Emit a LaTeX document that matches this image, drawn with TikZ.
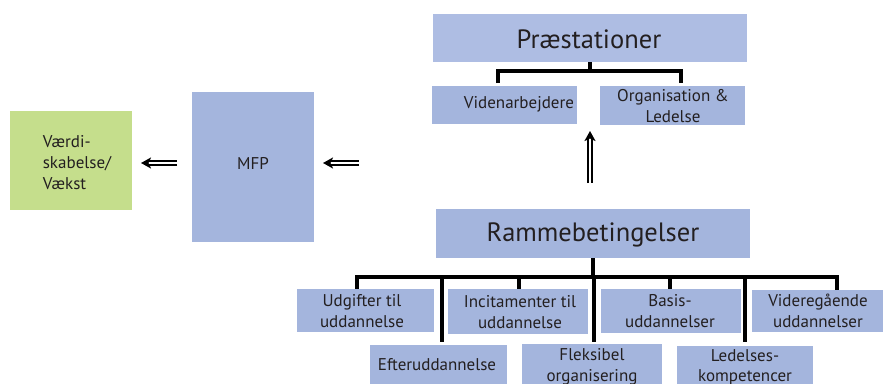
\documentclass[tikz,border=0pt]{standalone}
\usepackage{fontspec}
\setmainfont{PT Sans}
\usetikzlibrary{arrows.meta}
\definecolor{boxblue}{HTML}{A4B5DD}
\definecolor{boxbluel}{HTML}{AEBDE3}
\definecolor{boxgreen}{HTML}{C5DE8C}
\definecolor{txt}{HTML}{231F20}
\tikzset{
  bx/.style={fill=boxblue, draw=none, inner sep=0pt},
  lbl/.style={text=txt, font=\fontsize{17}{20.5}\selectfont, align=center, inner sep=0pt},
  big/.style={text=txt, font=\fontsize{26.5}{30}\selectfont, inner sep=0pt},
  conn/.style={line width=3.1pt, black},
  dblarrow/.style={double=white, double distance=1.8pt, line width=2.1pt, black, -{Stealth[length=10pt,width=11pt,inset=2.5pt]}}
}
\begin{document}
\begin{tikzpicture}[x=1pt,y=-1pt]
\useasboundingbox (0,0) rectangle (883,383);
\clip (0,0) rectangle (883,383);
% top
\fill[boxbluel] (433,14) rectangle (747,62);
\node[big] (praest) at (589,39) {Præstationer};
\coordinate (praestB) at (590,62);
\fill[boxblue] (432,86) rectangle (577,124);
\node[lbl] (viden) at (519,104) {Videnarbejdere};
\fill[boxblue] (600,86) rectangle (745,125);
\node[lbl] (org) at (673,106) {Organisation \&\\Ledelse};
\draw[conn] (praestB) -- (590,71) coordinate (pj);
\draw[conn] (498,83) coordinate (vt) |- (pj) -| (681,83) coordinate (ot);
% left
\fill[boxgreen] (10,111) rectangle (132,210);
\node[lbl, align=left, font=\fontsize{17}{21}\selectfont] (vaerdi) at (77,163) {Værdi-\\skabelse/\\Vækst};
\fill[boxblue] (192,92) rectangle (314,242);
\node[lbl] (mfp) at (253,163) {MFP};
\coordinate (a1s) at (177,163); \coordinate (a1e) at (141,163);
\coordinate (a2s) at (359,163); \coordinate (a2e) at (323,163);
\coordinate (a3s) at (590,183); \coordinate (a3e) at (590,131);
\draw[dblarrow] (a1s) -- (a1e);
\draw[dblarrow] (a2s) -- (a2e);
\draw[dblarrow] (a3s) -- (a3e);
% ramme
\fill[boxblue] (436,209) rectangle (750,258);
\node[big] (ramme) at (593,235) {Rammebetingelser};
\coordinate (rammeB) at (593,258);
\draw[conn] (rammeB) -- (593,277) coordinate (rj);
\draw[conn] (357,289) -- (357,277) -- (837,277) -- (837,290);
\draw[conn] (442,277) -- (442,342);
\draw[conn] (519,277) -- (519,290);
\draw[conn] (594,277) -- (594,342);
\draw[conn] (670,277) -- (670,290);
\draw[conn] (745,277) -- (745,342);
% bottom boxes
\fill[boxblue] (297,289) rectangle (434,332);
\node[lbl] (udg) at (362,311) {Udgifter til\\uddannelse};
\fill[boxblue] (448,289) rectangle (588,334);
\node[lbl] (inc) at (520,312) {Incitamenter til\\uddannelse};
\fill[boxblue] (601,289) rectangle (741,333);
\node[lbl] (bas) at (670,311) {Basis-\\uddannelser};
\fill[boxblue] (752,290) rectangle (883,332);
\node[lbl] (vid) at (818,311) {Videregående\\uddannelser};
\fill[boxblue] (370,345) rectangle (507,395);
\node[lbl] (eft) at (437,365) {Efteruddannelse};
\fill[boxblue] (522,344) rectangle (662,395);
\node[lbl] (fle) at (592,367) {Fleksibel\\organisering};
\fill[boxblue] (677,346) rectangle (813,395);
\node[lbl] (led) at (745,367) {Ledelses-\\kompetencer};
\end{tikzpicture}
\end{document}
